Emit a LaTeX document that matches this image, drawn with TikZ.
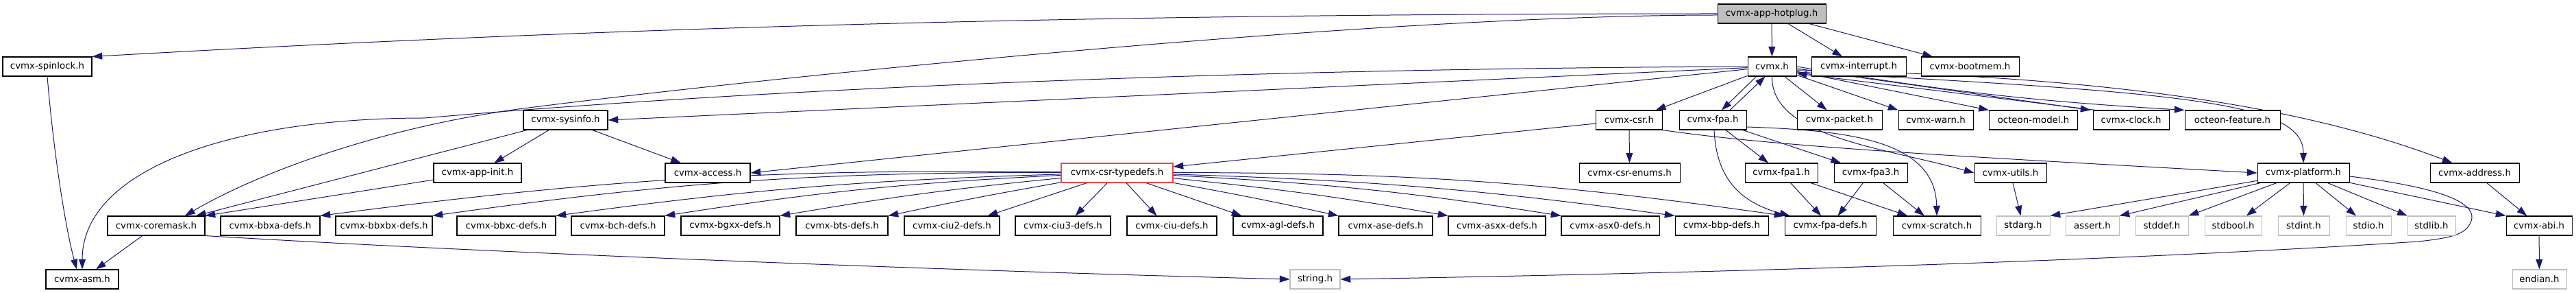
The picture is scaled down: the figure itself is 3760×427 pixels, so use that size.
\documentclass[tikz,border=0pt]{standalone}
\usepackage{fontspec}
\setmainfont{DejaVu Sans}
\usetikzlibrary{arrows.meta,calc}
\definecolor{navy}{HTML}{191970}
\definecolor{grayline}{HTML}{BFBFBF}
\definecolor{truncred}{HTML}{F04444}
\pgfdeclarelayer{edges}
\pgfsetlayers{edges,main}

\begin{document}
\begin{tikzpicture}[x=0.75pt,y=-0.75pt,
  hdr/.style={draw=black,fill=white,line width=0.8pt,minimum height=21pt,inner sep=1pt,font=\fontsize{10}{12}\selectfont},
  sys/.style={hdr,draw=grayline},
  w/.style={minimum width=#1*0.75pt},
  inc/.style={draw=navy,line width=0.75pt,-{Triangle[length=11pt,width=7.5pt]}}]
  \useasboundingbox (0,0) rectangle (3760,427);

  \node[hdr,w=158,fill=grayline] (hotplug) at (2586,20) {cvmx-app-hotplug.h};

  \node[hdr,w=130] (spinlock) at (69,97) {cvmx-spinlock.h};
  \node[hdr,w=71] (cvmx) at (2586.5,97) {cvmx.h};
  \node[hdr,w=138] (interrupt) at (2713,97) {cvmx-interrupt.h};
  \node[hdr,w=143] (bootmem) at (2875.5,97) {cvmx-bootmem.h};

  \node[hdr,w=123] (sysinfo) at (825.5,175) {cvmx-sysinfo.h};
  \node[hdr,w=97] (csr) at (2378,175) {cvmx-csr.h};
  \node[hdr,w=98] (fpa) at (2500,175) {cvmx-fpa.h};
  \node[hdr,w=124] (packet) at (2685,175) {cvmx-packet.h};
  \node[hdr,w=109] (warn) at (2825.5,175) {cvmx-warn.h};
  \node[hdr,w=129] (model) at (2968,175) {octeon-model.h};
  \node[hdr,w=111] (clock) at (3110.5,175) {cvmx-clock.h};
  \node[hdr,w=139] (feature) at (3258.5,175) {octeon-feature.h};

  \node[hdr,w=128] (appinit) at (697,252) {cvmx-app-init.h};
  \node[hdr,w=124] (access) at (1033,252) {cvmx-access.h};
  \node[hdr,w=163,draw=truncred] (typedefs) at (1630.5,252) {cvmx-csr-typedefs.h};
  \node[hdr,w=147] (enums) at (2378.5,252) {cvmx-csr-enums.h};
  \node[hdr,w=106] (fpa1) at (2600,252) {cvmx-fpa1.h};
  \node[hdr,w=107] (fpa3) at (2730.5,252) {cvmx-fpa3.h};
  \node[hdr,w=105] (utils) at (2934.5,252) {cvmx-utils.h};
  \node[hdr,w=134] (platform) at (3362,252) {cvmx-platform.h};
  \node[hdr,w=130] (address) at (3612,252) {cvmx-address.h};

  \node[hdr,w=142] (coremask) at (228,329) {cvmx-coremask.h};
  \node[hdr,w=145] (bbxa) at (394.5,329) {cvmx-bbxa-defs.h};
  \node[hdr,w=141] (bbxbx) at (560.5,329) {cvmx-bbxbx-defs.h};
  \node[hdr,w=144] (bbxc) at (739,329) {cvmx-bbxc-defs.h};
  \node[hdr,w=136] (bch) at (902,329) {cvmx-bch-defs.h};
  \node[hdr,w=144] (bgxx) at (1066,329) {cvmx-bgxx-defs.h};
  \node[hdr,w=134] (bts) at (1229,329) {cvmx-bts-defs.h};
  \node[hdr,w=139] (ciu2) at (1389.5,329) {cvmx-ciu2-defs.h};
  \node[hdr,w=139] (ciu3) at (1551.5,329) {cvmx-ciu3-defs.h};
  \node[hdr,w=131] (ciu) at (1710.5,329) {cvmx-ciu-defs.h};
  \node[hdr,w=131] (agl) at (1865.5,329) {cvmx-agl-defs.h};
  \node[hdr,w=137] (ase) at (2022.5,329) {cvmx-ase-defs.h};
  \node[hdr,w=142] (asxx) at (2185,329) {cvmx-asxx-defs.h};
  \node[hdr,w=143] (asx0) at (2350.5,329) {cvmx-asx0-defs.h};
  \node[hdr,w=136] (bbp) at (2513,329) {cvmx-bbp-defs.h};
  \node[hdr,w=133] (fpadefs) at (2671.5,329) {cvmx-fpa-defs.h};
  \node[hdr,w=128] (scratch) at (2827,329) {cvmx-scratch.h};
  \node[sys,w=78] (stdarg) at (2953,329) {stdarg.h};
  \node[sys,w=78] (assert) at (3054,329) {assert.h};
  \node[sys,w=77] (stddef) at (3155.5,329) {stddef.h};
  \node[sys,w=83] (stdbool) at (3259.5,329) {stdbool.h};
  \node[sys,w=75] (stdint) at (3362.5,329) {stdint.h};
  \node[sys,w=66] (stdio) at (3457,329) {stdio.h};
  \node[sys,w=70] (stdlib) at (3549,329) {stdlib.h};
  \node[hdr,w=96] (abi) at (3706,329) {cvmx-abi.h};

  \node[hdr,w=106] (asm) at (120,407) {cvmx-asm.h};
  \node[sys,w=73] (string) at (1919.5,407) {string.h};
  \node[sys,w=79] (endian) at (3706.5,407) {endian.h};

  \begin{pgfonlayer}{edges}
  \draw[inc] (hotplug) -- (cvmx);
  \draw[inc] (hotplug) -- (interrupt);
  \draw[inc] (hotplug) -- (bootmem);
  \draw[inc] (hotplug.west) .. controls (1500,20) and (800,45) .. (spinlock.north east);
  \draw[inc] ($(hotplug.west)+(0,2)$) .. controls (2000,22) and (1100,115) .. (764,158) .. controls (560,185) and (380,250) .. ($(coremask.north)+(42,0)$);

  \draw[inc] (cvmx.west) .. controls (1800,100) and (1100,130) .. (620,172) .. controls (330,172) and (120,250) .. (asm.north);
  \draw[inc] (cvmx) -- (sysinfo.east);
  \draw[inc] (cvmx) -- (access.east);
  \draw[inc] (cvmx) -- (csr);
  \draw[inc] ($(cvmx.south)+(-23,0)$) -- ($(fpa.north)+(13,0)$);
  \draw[inc] ($(fpa.north)+(25,0)$) -- ($(cvmx.south)+(-10,0)$);
  \draw[inc] (cvmx) -- (packet);
  \draw[inc] (cvmx) -- (warn.north west);
  \draw[inc] (cvmx) -- (model.north west);
  \draw[inc] ($(cvmx.east)+(0,3)$) -- ($(clock.north west)+(-3,0)$);
  \draw[inc] ($(clock.north west)+(4,0)$) -- ($(cvmx.east)+(0,10)$);
  \draw[inc] (cvmx.east) to[bend right=3] (feature.north west);
  \draw[inc] ($(cvmx.east)+(0,8)$) .. controls (3200,135) and (3362,150) .. (platform.north);
  \draw[inc] ($(cvmx.east)+(0,5)$) .. controls (3050,110) and (3350,150) .. ($(address.north west)+(33,0)$);
  \draw[inc] (cvmx.south) .. controls (2585,200) and (2750,215) .. (utils.west);

  \draw[inc] (csr) -- ($(typedefs.east)+(0,-9)$);
  \draw[inc] (csr) -- (enums);
  \draw[inc] (csr.south east) .. controls (2600,215) and (2900,230) .. (platform.west);

  \draw[inc] (fpa) -- (fpa1);
  \draw[inc] (fpa) -- (fpa3);
  \draw[inc] ($(fpa.south)+(2,0)$) .. controls (2505,260) and (2540,295) .. ($(fpadefs.north west)+(8,0)$);
  \draw[inc] ($(fpa.east)+(0,10)$) .. controls (2700,190) and (2825,205) .. (scratch.north);
  \draw[inc] (fpa1) -- (fpadefs);
  \draw[inc] (fpa1) -- (scratch);
  \draw[inc] (fpa3) -- (fpadefs);
  \draw[inc] (fpa3) -- (scratch);
  \draw[inc] (utils) -- (stdarg);

  \draw[inc] (platform) -- (stdarg.north east);
  \draw[inc] (platform) -- (assert.north east);
  \draw[inc] (platform) -- (stddef.north east);
  \draw[inc] (platform) -- (stdbool);
  \draw[inc] (platform) -- (stdint);
  \draw[inc] (platform) -- (stdio);
  \draw[inc] (platform) -- (stdlib);
  \draw[inc] (platform) -- (abi.north west);
  \draw[inc] ($(platform.east)+(0,5)$) .. controls (3580,275) and (3615,300) .. (3607,322) .. controls (3600,340) and (3585,346) .. (3530,352) .. controls (3100,380) and (2500,398) .. (string.east);
  \draw[inc] (address) -- (abi);
  \draw[inc] (abi) -- (endian);

  \draw[inc] (sysinfo) -- (appinit);
  \draw[inc] (sysinfo) -- (access);
  \draw[inc] (sysinfo) -- ($(coremask.north)+(58,0)$);
  \draw[inc] (appinit) -- (coremask.north east);
  \draw[inc] (coremask) -- (asm);
  \draw[inc] (coremask.south east) .. controls (700,368) and (1400,395) .. (string.west);
  \draw[inc] (spinlock.south) .. controls (78,220) and (95,330) .. ($(asm.north)+(-8,0)$);

  \foreach \t/\b in {bbxa/4,bbxbx/4,bbxc/3,bch/3,bgxx/2,bts/1}
    \draw[inc] (typedefs) to[bend right=\b] (\t.north east);
  \draw[inc] (typedefs) -- ($(ciu2.north east)+(-18,0)$);
  \draw[inc] (typedefs) -- ($(ciu3.north)+(18,0)$);
  \draw[inc] (typedefs) -- ($(ciu.north)+(-22,0)$);
  \draw[inc] (typedefs) -- ($(agl.north west)+(13,0)$);
  \foreach \t/\b in {ase/1,asxx/2,asx0/3,bbp/3,fpadefs/4}
    \draw[inc] (typedefs) to[bend left=\b] (\t.north west);
  \end{pgfonlayer}
\end{tikzpicture}
\end{document}
